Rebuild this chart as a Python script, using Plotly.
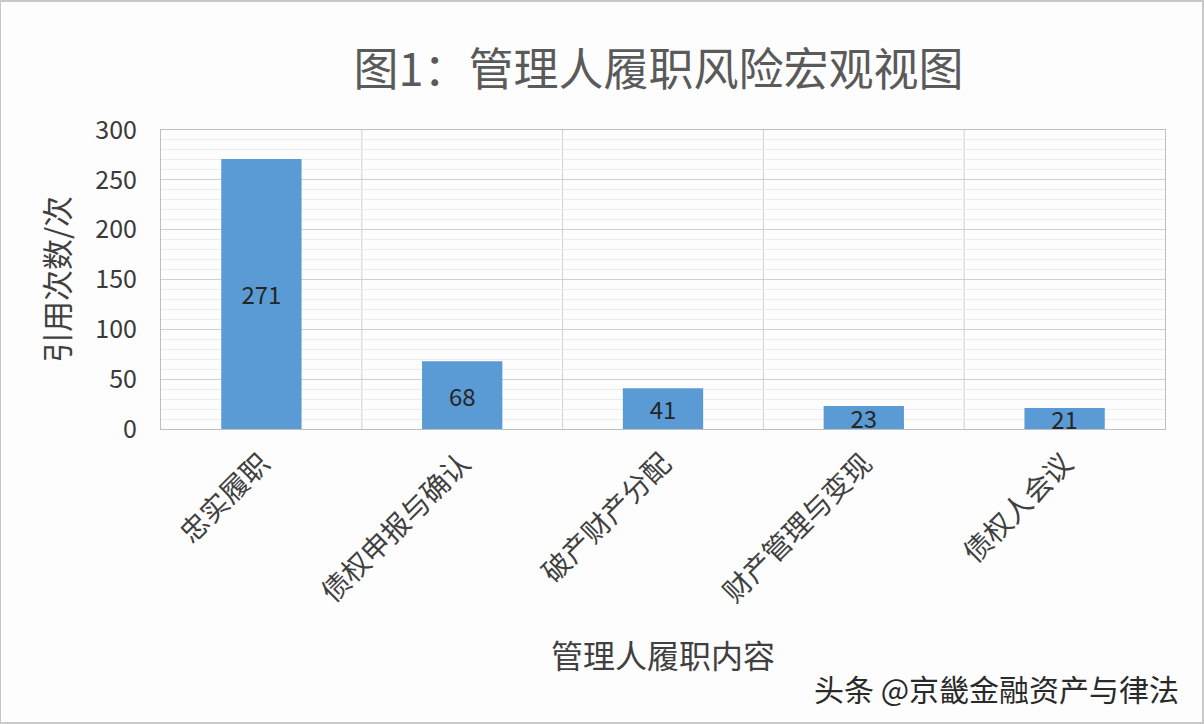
import plotly.graph_objects as go

categories = ["忠实履职", "债权申报与确认", "破产财产分配", "财产管理与变现", "债权人会议"]
values = [271, 68, 41, 23, 21]
title_text = "图1：管理人履职风险宏观视图"
y_title = "引用次数/次"
x_title = "管理人履职内容"
watermark = "头条 @京畿金融资产与律法"

FONT = "Noto Sans CJK SC"

fig = go.Figure()
fig.add_trace(go.Bar(
    x=categories, y=values, width=0.4,
    marker=dict(color="#5b9bd5", line=dict(width=0)),
    text=[str(v) for v in values], textposition="inside", textangle=0,
    insidetextanchor="middle", constraintext="none",
    textfont=dict(family=FONT, size=24, color="#262626"),
    cliponaxis=False,
))

fig.update_layout(
    width=1204, height=724,
    paper_bgcolor="#fdfdfd", plot_bgcolor="#fdfdfd",
    margin=dict(l=161, r=39, t=130, b=295),
    showlegend=False,
    title=dict(text=title_text, x=0.547, xanchor="center", y=0.903, yanchor="middle",
               font=dict(family=FONT, size=45, color="#5a5a5a")),
    font=dict(family=FONT, color="#404040"),
)
fig.update_xaxes(
    showgrid=False, showline=True, linecolor="#bfbfbf", linewidth=1, mirror=True,
    ticks="outside", ticklen=6, tickcolor="rgba(0,0,0,0)", tickangle=-45,
    tickfont=dict(family=FONT, size=28, color="#404040"),
    title=dict(text=x_title, font=dict(family=FONT, size=32, color="#404040"), standoff=36),
)
fig.update_yaxes(
    range=[0, 300], dtick=50, showgrid=True, gridcolor="#d0d0d0", gridwidth=1,
    minor=dict(dtick=10, showgrid=True, gridcolor="#ececec", gridwidth=1),
    zeroline=False, showline=True, linecolor="#bfbfbf", mirror=True,
    ticks="outside", ticklen=18, tickcolor="rgba(0,0,0,0)",
    tickfont=dict(family=FONT, size=25, color="#3a3a3a"),
    title=dict(text=y_title, font=dict(family=FONT, size=31, color="#404040"), standoff=16),
)

# vertical category separator lines
for i in range(1, len(categories)):
    fig.add_shape(type="line", xref="x", yref="paper", x0=i - 0.5, x1=i - 0.5, y0=0, y1=1,
                  line=dict(color="#d0d0d0", width=1), layer="below")

# outer border
fig.add_shape(type="rect", xref="paper", yref="paper", x0=-161/1004, x1=1+38/1004,
              y0=-294/299, y1=1+129/299, line=dict(color="#c8c8c8", width=2))

fig.add_annotation(text=watermark, xref="paper", yref="paper", x=1.016, y=-259/299,
                   xanchor="right", yanchor="middle", showarrow=False,
                   font=dict(family=FONT, size=30, color="#2a2a2a"))

fig.write_html("out.html")
